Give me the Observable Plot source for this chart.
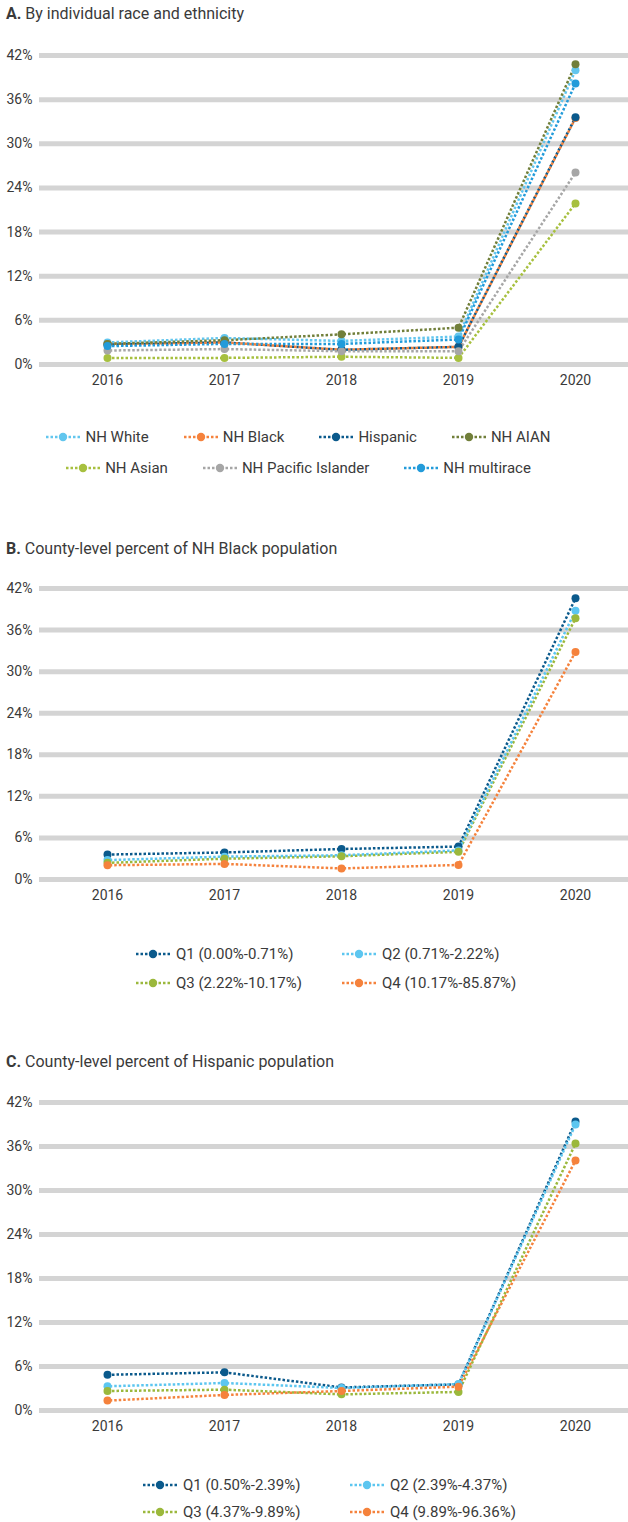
<!DOCTYPE html>
<html>
<head>
<meta charset="utf-8">
<script src="https://cdn.jsdelivr.net/npm/d3@7"></script>
<script src="https://cdn.jsdelivr.net/npm/@observablehq/plot@0.6"></script>
<style>
  html, body { margin: 0; padding: 0; background: #fff; }
  body { width: 628px; height: 1522px; position: relative; font-family: Roboto, "DejaVu Sans", sans-serif; color: #3a3a3a; overflow: hidden; }
  .title { position: absolute; left: 6px; font-size: 16px; line-height: 20px; white-space: nowrap; }
  .title b { font-weight: 700; }
  .chart { position: absolute; left: 0; }
  .lrow { position: absolute; display: flex; justify-content: center; align-items: center; gap: 35px; font-size: 15px; white-space: nowrap; }
  .litem { display: flex; align-items: center; gap: 5px; }
  .litem svg { display: block; }
  .lcol { position: absolute; display: flex; align-items: center; gap: 6px; font-size: 15px; white-space: nowrap; }
</style>
</head>
<body>
<script>
// ---------- data ----------
const years = [2016, 2017, 2018, 2019, 2020];
const yTicks = [0, 6, 12, 18, 24, 30, 36, 42];

// Panel A: by individual race and ethnicity (%)
const seriesA = ["NH White", "NH Black", "Hispanic", "NH AIAN", "NH Asian", "NH Pacific Islander", "NH multirace"];
const colorsA = ["#62c6ee", "#f5823c", "#0b5a8c", "#717f3a", "#a7c03f", "#a6a6a6", "#229bda"];
const nhWhite       = [3.0, 3.6, 3.2, 3.8, 40.0];
const nhBlack       = [2.8, 3.0, 2.0, 2.4, 33.5];
const hispanic      = [2.7, 3.0, 2.0, 2.4, 33.6];
const nhAIAN        = [2.8, 3.3, 4.1, 5.0, 40.8];
const nhAsian       = [0.9, 0.9, 1.05, 0.9, 21.9];
const nhPacific     = [1.9, 2.1, 1.8, 1.8, 26.1];
const nhMultirace   = [2.5, 2.8, 2.8, 3.4, 38.2];
const valuesA = [nhWhite, nhBlack, hispanic, nhAIAN, nhAsian, nhPacific, nhMultirace];
const legendRowsA = [["NH White", "NH Black", "Hispanic", "NH AIAN"], ["NH Asian", "NH Pacific Islander", "NH multirace"]];

// Panel B: county-level percent of NH Black population (quartiles)
const seriesB = ["Q1 (0.00%-0.71%)", "Q2 (0.71%-2.22%)", "Q3 (2.22%-10.17%)", "Q4 (10.17%-85.87%)"];
const colorsQ = ["#0b5a8c", "#5cc6f0", "#9bb83c", "#f5823c"];
const bQ1 = [3.6, 3.9, 4.4, 4.75, 40.6];
const bQ2 = [2.8, 3.3, 3.5, 4.2, 38.8];
const bQ3 = [2.4, 3.0, 3.35, 4.0, 37.7];
const bQ4 = [2.06, 2.25, 1.6, 2.1, 32.85];
const valuesB = [bQ1, bQ2, bQ3, bQ4];

// Panel C: county-level percent of Hispanic population (quartiles)
const seriesC = ["Q1 (0.50%-2.39%)", "Q2 (2.39%-4.37%)", "Q3 (4.37%-9.89%)", "Q4 (9.89%-96.36%)"];
const cQ1 = [4.87, 5.2, 3.15, 3.56, 39.4];
const cQ2 = [3.3, 3.75, 3.07, 3.6, 39.0];
const cQ3 = [2.66, 2.84, 2.2, 2.53, 36.4];
const cQ4 = [1.35, 2.12, 2.66, 3.25, 34.1];
const valuesC = [cQ1, cQ2, cQ3, cQ4];

// ---------- helpers ----------
function toRows(series, values) {
  const rows = [];
  series.forEach((s, i) => values[i].forEach((v, j) => rows.push({series: s, idx: i, year: years[j], value: v})));
  return rows;
}

function makeChart(series, colors, values, innerHeight) {
  const data = toRows(series, values);
  const mt = 15, mb = 30;
  const lineOpts = {x: "year", y: "value", z: "series", stroke: "series", strokeWidth: 2.5, strokeDasharray: "2.5 2", strokeLinecap: "butt"};
  return Plot.plot({
    width: 628,
    height: mt + innerHeight + mb,
    marginLeft: 39,
    marginRight: 0,
    marginTop: mt,
    marginBottom: mb,
    style: {fontFamily: "Roboto, sans-serif", fontSize: "14px", color: "#3a3a3a", background: "transparent", overflow: "visible"},
    x: {type: "point", domain: years, range: [106, 575], padding: 0, label: null},
    y: {domain: [0, 42], label: null},
    color: {domain: series, range: colors},
    marks: [
      Plot.ruleY(yTicks, {stroke: "#d4d4d4", strokeWidth: 5}),
      Plot.axisX({tickSize: 0, tickPadding: 11, label: null, tickFormat: d => String(d)}),
      Plot.axisY({ticks: yTicks, tickSize: 0, tickPadding: 7, label: null, tickFormat: d => d + "%"}),
      // alternate dash phase so coincident series stay visible
      Plot.line(data.filter(d => d.idx % 2 === 0), {...lineOpts, strokeDashoffset: 0}),
      Plot.line(data.filter(d => d.idx % 2 === 1), {...lineOpts, strokeDashoffset: 2.25}),
      Plot.dot(data, {x: "year", y: "value", fill: "series", r: 4})
    ]
  });
}

function swatch(color) {
  const ns = "http://www.w3.org/2000/svg";
  const svg = document.createElementNS(ns, "svg");
  svg.setAttribute("width", 34); svg.setAttribute("height", 10);
  const l = document.createElementNS(ns, "line");
  l.setAttribute("x1", 0); l.setAttribute("x2", 34); l.setAttribute("y1", 5); l.setAttribute("y2", 5);
  l.setAttribute("stroke", color); l.setAttribute("stroke-width", 2.5); l.setAttribute("stroke-dasharray", "2.5 2");
  svg.appendChild(l);
  const c = document.createElementNS(ns, "circle");
  c.setAttribute("cx", 17); c.setAttribute("cy", 5); c.setAttribute("r", 4.2); c.setAttribute("fill", color);
  svg.appendChild(c);
  return svg;
}

function addTitle(letter, text, top) {
  const d = document.createElement("div");
  d.className = "title";
  d.style.top = top + "px";
  const b = document.createElement("b"); b.textContent = letter;
  d.appendChild(b);
  d.appendChild(document.createTextNode(" " + text));
  document.body.appendChild(d);
}

function addChart(svg, top) {
  const d = document.createElement("div");
  d.className = "chart";
  d.style.top = top + "px";
  d.appendChild(svg);
  document.body.appendChild(d);
}

function addLegendRows(rows, series, colors, tops, width) {
  rows.forEach((row, ri) => {
    const r = document.createElement("div");
    r.className = "lrow";
    r.style.top = (tops[ri] - 10) + "px";
    r.style.left = "0px";
    r.style.width = width + "px";
    r.style.height = "20px";
    row.forEach(name => {
      const it = document.createElement("div");
      it.className = "litem";
      it.appendChild(swatch(colors[series.indexOf(name)]));
      const t = document.createElement("span"); t.textContent = name;
      it.appendChild(t);
      r.appendChild(it);
    });
    document.body.appendChild(r);
  });
}

function addLegendGrid(series, colors, lefts, tops) {
  series.forEach((name, i) => {
    const it = document.createElement("div");
    it.className = "lcol";
    it.style.left = lefts[i % 2] + "px";
    it.style.top = (tops[Math.floor(i / 2)] - 10) + "px";
    it.style.height = "20px";
    it.appendChild(swatch(colors[i]));
    const t = document.createElement("span"); t.textContent = name;
    it.appendChild(t);
    document.body.appendChild(it);
  });
}

// ---------- Panel A ----------
addTitle("A.", "By individual race and ethnicity", 4);
addChart(makeChart(seriesA, colorsA, valuesA, 309), 40);
addLegendRows(legendRowsA, seriesA, colorsA, [437, 468], 597);

// ---------- Panel B ----------
addTitle("B.", "County-level percent of NH Black population", 539);
addChart(makeChart(seriesB, colorsQ, valuesB, 291), 573);
addLegendGrid(seriesB, colorsQ, [136, 342], [954, 983]);

// ---------- Panel C ----------
addTitle("C.", "County-level percent of Hispanic population", 1052);
addChart(makeChart(seriesC, colorsQ, valuesC, 308), 1087);
addLegendGrid(seriesC, colorsQ, [143, 350], [1485, 1512]);
</script>
</body>
</html>
